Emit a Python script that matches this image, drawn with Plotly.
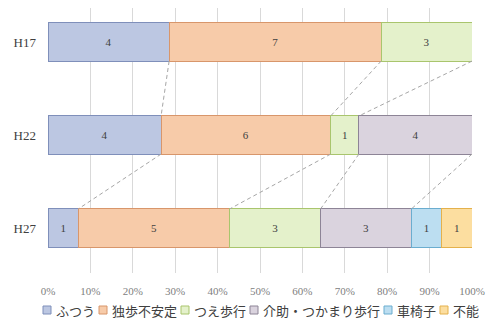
import plotly.graph_objects as go

years = ["H17", "H22", "H27"]
series_names = ["ふつう", "独歩不安定", "つえ歩行", "介助・つかまり歩行", "車椅子", "不能"]
v_futsuu = [4, 4, 1]
v_dokuho = [7, 6, 5]
v_tsue = [3, 1, 3]
v_kaijo = [0, 4, 3]
v_kurumaisu = [0, 0, 1]
v_funou = [0, 0, 1]
x_ticks = [0, 10, 20, 30, 40, 50, 60, 70, 80, 90, 100]
x_ticklabels = ["0%", "10%", "20%", "30%", "40%", "50%", "60%", "70%", "80%", "90%", "100%"]

values = [v_futsuu, v_dokuho, v_tsue, v_kaijo, v_kurumaisu, v_funou]
fills = ["#bcc7e2", "#f7cba9", "#e4f1cb", "#dad3de", "#bcdef1", "#fcdea0"]
borders = ["#7f8fba", "#d8966b", "#a9c56d", "#8d8496", "#6badcf", "#e4b14c"]

W, H = 487, 321
L, R, T, B = 48, 15, 8, 48
pw, ph = W - L - R, H - T - B
bar_w = 0.41
ypos = list(range(len(years)))

fig = go.Figure()
serif = "Liberation Serif"

for name, vals, fc, bc in zip(series_names, values, fills, borders):
    fig.add_trace(go.Bar(
        y=ypos, x=vals, name=name, orientation="h", width=bar_w,
        marker=dict(color=fc, line=dict(color=bc, width=1)),
        text=[str(v) if v else "" for v in vals], textposition="inside",
        insidetextanchor="middle", textangle=0,
        textfont=dict(family=serif, size=11, color="#404040"),
        hoverinfo="skip", showlegend=False,
    ))

totals = [sum(v[i] for v in values) for i in range(len(years))]
cum = []
run = [0.0] * len(years)
for vals in values:
    run = [run[i] + vals[i] for i in range(len(years))]
    cum.append([100.0 * run[i] / totals[i] for i in range(len(years))])

for s in range(len(values)):
    for i in range(len(years) - 1):
        if values[s][i] == 0:
            continue
        fig.add_trace(go.Scatter(
            x=[cum[s][i], cum[s][i + 1]],
            y=[ypos[i] + bar_w / 2, ypos[i + 1] - bar_w / 2],
            mode="lines", line=dict(color="#a6a6a6", width=1, dash="4px,3px"),
            hoverinfo="skip", showlegend=False,
        ))

fs = 13
def tw(s):
    return fs * len(s)
px = 43
ly = 310
for name, fc, bc in zip(series_names, fills, borders):
    box = 8
    x0 = (px - L) / pw
    x1 = (px + box - L) / pw
    y0 = (T + ph - (ly + box / 2)) / ph
    y1 = (T + ph - (ly - box / 2)) / ph
    fig.add_shape(type="rect", xref="paper", yref="paper", x0=x0, x1=x1, y0=y0, y1=y1,
                  fillcolor=fc, line=dict(color=bc, width=1))
    tx = px + box + 3
    fig.add_annotation(xref="paper", yref="paper", x=(tx - L) / pw,
                       y=(T + ph - ly) / ph, text=name, showarrow=False,
                       xanchor="left", yanchor="middle",
                       font=dict(family="Noto Sans CJK JP", size=fs, color="#404040"))
    px = tx + tw(name) + 6

fig.update_layout(
    width=W, height=H,
    margin=dict(l=L, r=R, t=T, b=B, autoexpand=False),
    barmode="stack", barnorm="percent",
    plot_bgcolor="white", paper_bgcolor="white",
    showlegend=False,
    xaxis=dict(range=[0, 100], tickvals=x_ticks, ticktext=x_ticklabels,
               showgrid=True, gridcolor="#d9d9d9", gridwidth=1, zeroline=False,
               showline=False, ticks="", automargin=False, ticklabelstandoff=10,
               tickfont=dict(family=serif, size=11, color="#808080")),
    yaxis=dict(range=[2.484, -0.366], tickvals=ypos, ticktext=years,
               showgrid=False, zeroline=False, showline=False, ticks="",
               ticklabelstandoff=11, automargin=False,
               tickfont=dict(family=serif, size=13, color="#404040")),
)

fig.write_html("out.html")
